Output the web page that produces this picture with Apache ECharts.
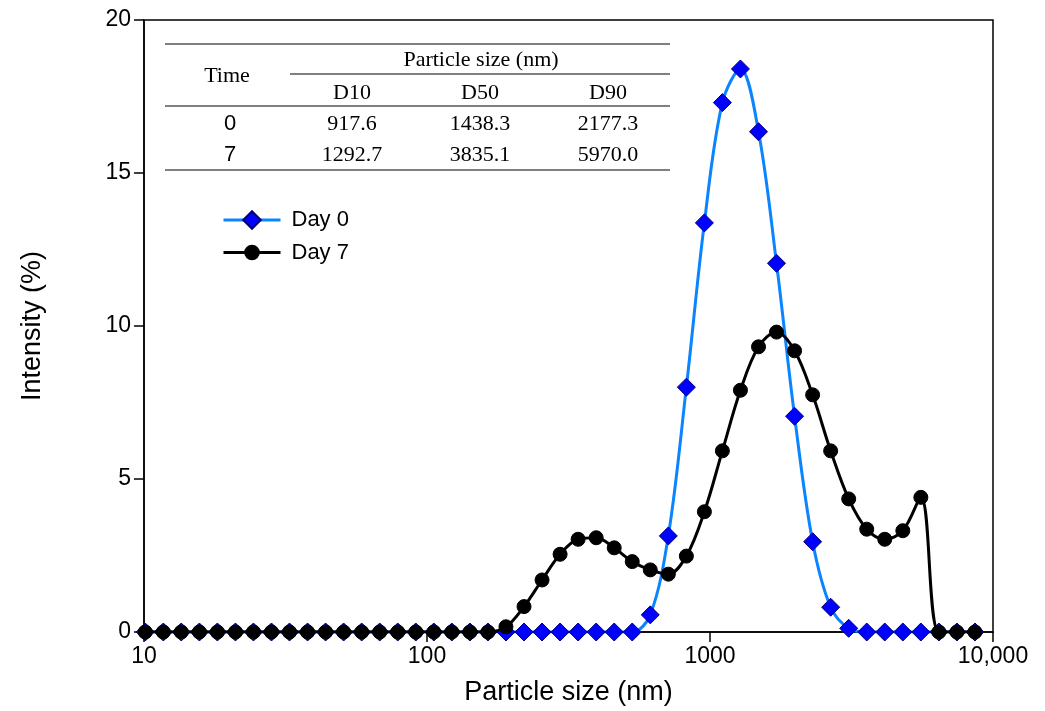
<!DOCTYPE html>
<html>
<head>
<meta charset="utf-8">
<script src="https://cdn.jsdelivr.net/npm/echarts@6/dist/echarts.min.js"></script>
<style>
  html, body { margin: 0; padding: 0; background: #fff; }
  #chart { width: 1045px; height: 711px; }
</style>
</head>
<body>
<div id="chart"></div>
<script>
// Particle size bins (nm), log-spaced
const sizes = [10.1, 11.7, 13.54, 15.69, 18.17, 21.04, 24.36, 28.21, 32.67, 37.84,
  43.82, 50.75, 58.77, 68.06, 78.82, 91.28, 105.7, 122.4, 141.8, 164.2,
  190.1, 220.2, 255.0, 295.3, 342.0, 396.1, 458.7, 531.2, 615.1, 712.4,
  825.0, 955.4, 1106, 1281, 1484, 1718, 1990, 2305, 2669, 3091,
  3580, 4145, 4801, 5560, 6439, 7456, 8635];

// Intensity (%) per bin
const day0 = [0, 0, 0, 0, 0, 0, 0, 0, 0, 0,
  0, 0, 0, 0, 0, 0, 0, 0, 0, 0,
  0, 0, 0, 0, 0, 0, 0, 0, 0.56, 3.14,
  8.0, 13.37, 17.3, 18.4, 16.35, 12.05, 7.05, 2.95, 0.81, 0.12,
  0, 0, 0, 0, 0, 0, 0];
const day7 = [0, 0, 0, 0, 0, 0, 0, 0, 0, 0,
  0, 0, 0, 0, 0, 0, 0, 0, 0, 0,
  0.17, 0.83, 1.7, 2.54, 3.03, 3.08, 2.75, 2.3, 2.03, 1.89,
  2.48, 3.93, 5.92, 7.9, 9.32, 9.8, 9.19, 7.75, 5.92, 4.35,
  3.36, 3.03, 3.31, 4.4, 0, 0, 0];

const xTickLabels = ['10', '100', '1000', '10,000'];
const yTickLabels = ['0', '5', '10', '15', '20'];

// Summary table
const tableTimes = ['0', '7'];
const tableHeads = ['D10', 'D50', 'D90'];
const d10 = [917.6, 1292.7];
const d50 = [1438.3, 3835.1];
const d90 = [2177.3, 5970.0];

const SANS = 'Liberation Sans, Arial, sans-serif';
const SERIF = 'Liberation Serif, Times New Roman, serif';

function pairs(ys) { return sizes.map((x, i) => [x, ys[i]]); }

// Table drawn as graphic elements
const tbl = [];
const colX = [352, 480, 608];
const hline = (x1, x2, y) => ({ type: 'line', shape: { x1, y1: y, x2, y2: y }, style: { stroke: '#000', lineWidth: 1 } });
const txt = (x, y, s, font) => ({ type: 'text', x, y, style: { text: s, fontSize: 22, fontFamily: font, fill: '#000', align: 'center', verticalAlign: 'middle' } });
tbl.push(hline(165, 670, 44));
tbl.push(hline(290, 670, 74));
tbl.push(hline(165, 670, 106));
tbl.push(hline(165, 670, 170));
tbl.push(txt(481, 60, 'Particle size (nm)', SERIF));
tbl.push(txt(227, 76, 'Time', SERIF));
tableHeads.forEach((h, i) => tbl.push(txt(colX[i], 93, h, SERIF)));
const rowY = [124, 155];
tableTimes.forEach((t, r) => {
  tbl.push(txt(230, rowY[r], t, SANS));
  [d10, d50, d90].forEach((col, c) => tbl.push(txt(colX[c], rowY[r], col[r].toFixed(1), SERIF)));
});

const legendText = { fontSize: 22, fontFamily: SANS, color: '#000', padding: [0, 0, 0, 6] };

const chart = echarts.init(document.getElementById('chart'), null, { renderer: 'canvas' });
chart.setOption({
  backgroundColor: '#fff',
  animation: false,
  grid: { left: 144, right: 52, top: 20, bottom: 79, show: true, borderColor: '#000', borderWidth: 1.5, backgroundColor: 'transparent' },
  legend: [
    {
      data: ['Day 0'], orient: 'vertical', left: 217, top: 204,
      itemWidth: 57, itemHeight: 22,
      lineStyle: { width: 3 },
      textStyle: legendText
    },
    {
      data: ['Day 7'], orient: 'vertical', left: 217, top: 236.5,
      itemWidth: 57, itemHeight: 17,
      lineStyle: { width: 3 },
      textStyle: legendText
    }
  ],
  xAxis: {
    type: 'log', logBase: 10, min: 10, max: 10000,
    name: 'Particle size (nm)', nameLocation: 'middle', nameGap: 47,
    nameTextStyle: { fontSize: 27, fontFamily: SANS, color: '#000' },
    axisLine: { lineStyle: { color: '#000', width: 1.5 } },
    axisTick: { show: true, inside: false, length: 10, lineStyle: { color: '#000', width: 1.5 } },
    minorTick: { show: false },
    splitLine: { show: false },
    axisLabel: {
      fontSize: 23, fontFamily: SANS, color: '#000', margin: 13,
      formatter: v => xTickLabels[Math.round(Math.log10(v)) - 1]
    }
  },
  yAxis: {
    type: 'value', min: 0, max: 20, interval: 5,
    name: 'Intensity (%)', nameLocation: 'middle', nameGap: 98, nameRotate: 90,
    nameTextStyle: { fontSize: 27, fontFamily: SANS, color: '#000' },
    axisLine: { show: true, lineStyle: { color: '#000', width: 1.5 } },
    axisTick: { show: true, inside: false, length: 10, lineStyle: { color: '#000', width: 1.5 } },
    splitLine: { show: false },
    axisLabel: {
      fontSize: 23, fontFamily: SANS, color: '#000', margin: 13,
      formatter: v => yTickLabels[Math.round(v / 5)]
    }
  },
  series: [
    {
      name: 'Day 0', type: 'line', data: pairs(day0), smooth: 0.35,
      symbol: 'diamond', symbolSize: 18, z: 2,
      lineStyle: { color: '#0a84ff', width: 3 },
      itemStyle: { color: '#0000ff', borderColor: '#00007a', borderWidth: 1 }
    },
    {
      name: 'Day 7', type: 'line', data: pairs(day7), smooth: 0.35,
      symbol: 'circle', symbolSize: 14, z: 3,
      lineStyle: { color: '#000', width: 3 },
      itemStyle: { color: '#000', borderColor: '#000', borderWidth: 1 }
    }
  ],
  graphic: tbl
});
</script>
</body>
</html>
